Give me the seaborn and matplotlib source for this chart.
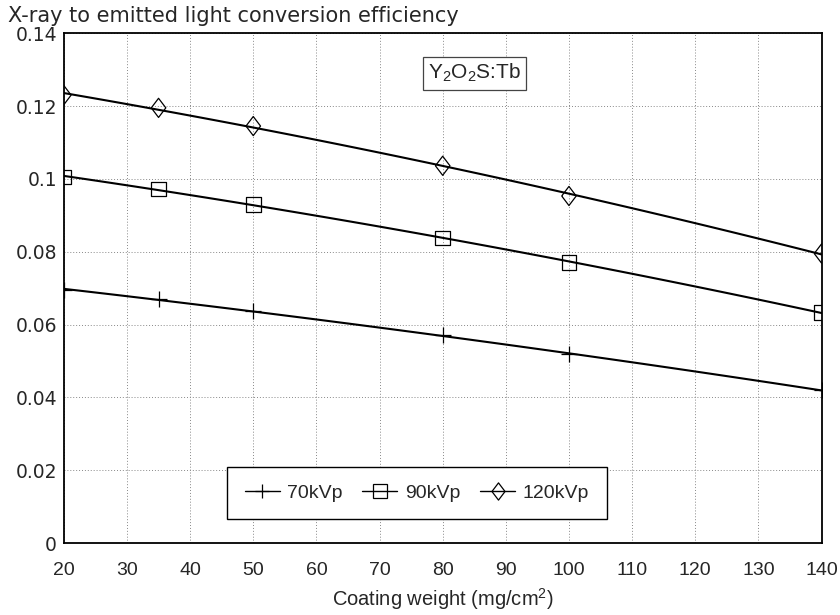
import numpy as np
import pandas as pd
import seaborn as sns
import matplotlib
matplotlib.use("Agg")
import matplotlib.pyplot as plt
from matplotlib.lines import Line2D

# ---- data ----
weights = [20, 35, 50, 80, 100, 140]
eff_70 = [0.0696, 0.0670, 0.0636, 0.0570, 0.0518, 0.0420]
eff_90 = [0.1005, 0.0972, 0.0930, 0.0838, 0.0770, 0.0633]
eff_120 = [0.1230, 0.1195, 0.1145, 0.1036, 0.0953, 0.0795]
series_names = ["70kVp", "90kVp", "120kVp"]
x_ticks = [20, 30, 40, 50, 60, 70, 80, 90, 100, 110, 120, 130, 140]
y_ticks = [0, 0.02, 0.04, 0.06, 0.08, 0.1, 0.12, 0.14]
y_tick_labels = ["0", "0.02", "0.04", "0.06", "0.08", "0.1", "0.12", "0.14"]

sns.set_style("white")
plt.rcParams["font.family"] = ["Liberation Sans", "DejaVu Sans"]
plt.rcParams["mathtext.fontset"] = "custom"
plt.rcParams["mathtext.rm"] = "Liberation Sans"
plt.rcParams["mathtext.it"] = "Liberation Sans"

fig = plt.figure(figsize=(8.4, 6.15), dpi=100)
ax = fig.add_axes([0.076, 0.117, 0.902, 0.829])

diamond = [(-0.38, 0), (0, 0.5), (0.38, 0), (0, -0.5), (-0.38, 0)]
markers = ["+", "s", diamond]
sizes = [130, 110, 190]
data_sets = [eff_70, eff_90, eff_120]

handles = []
for name, ys, mk, sz in zip(series_names, data_sets, markers, sizes):
    df = pd.DataFrame({"w": weights, "e": ys})
    skw = dict(s=sz, alpha=1, linewidths=0.9, zorder=4)
    if mk != "+":
        skw.update(facecolors="none", edgecolors="black")
    sns.regplot(data=df, x="w", y="e", ax=ax, ci=None, truncate=True,
                order=2, marker=mk, color="black", scatter_kws=skw,
                line_kws=dict(lw=1.5, zorder=3))
    handles.append(Line2D([], [], color="black", lw=1.0, marker=mk,
                          markersize=np.sqrt(sz) * 0.9,
                          markerfacecolor="none", markeredgewidth=0.9,
                          label=name))

ax.set_xlim(20, 140)
ax.set_ylim(0, 0.14)
ax.set_xticks(x_ticks)
ax.set_xticklabels([str(t) for t in x_ticks], fontsize=14)
ax.set_yticks(y_ticks)
ax.set_yticklabels(y_tick_labels, fontsize=13.5, family=["DejaVu Sans"])
ax.tick_params(axis="both", direction="in", length=6, width=1)
ax.tick_params(axis="y", pad=5)
ax.tick_params(axis="x", pad=14)
ax.grid(True, color="#888888", linestyle=(0, (1, 2)), linewidth=0.7)
for sp in ax.spines.values():
    sp.set_color("black")
    sp.set_linewidth(1.3)
    sp.set_visible(True)

ax.set_xlabel("Coating weight (mg/cm$^2$)", fontsize=14.5, labelpad=5)
ax.set_ylabel("")
fig.text(0.009, 0.974, "X-ray to emitted light conversion efficiency",
         fontsize=15, ha="left", va="center", family=["DejaVu Sans"])

ax.text(85, 0.129, "Y$_2$O$_2$S:Tb", fontsize=15, ha="center", va="center",
        bbox=dict(boxstyle="square,pad=0.25", facecolor="white",
                  edgecolor="#444444", linewidth=0.9), zorder=6)

leg = ax.legend(handles=handles, loc="center", bbox_to_anchor=(0.466, 0.098),
                ncol=3, fontsize=14, frameon=True, fancybox=False,
                handlelength=1.8, columnspacing=1.0, borderpad=0.9,
                handletextpad=0.4, framealpha=1)
leg.get_frame().set_edgecolor("black")
leg.get_frame().set_linewidth(1.0)

fig.savefig("out.png", dpi=100)
